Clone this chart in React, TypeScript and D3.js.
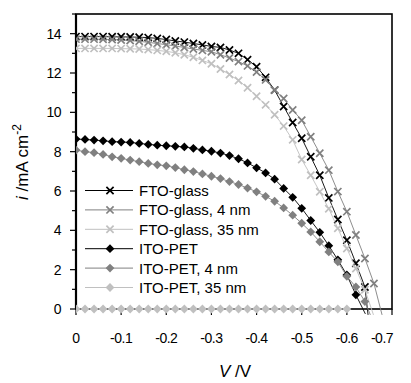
import { line, range, scaleLinear } from "d3";

// bias voltage (V) at every measured point, shared by all series
const VOLTAGE = [
  0, -0.02, -0.04, -0.06, -0.08, -0.1, -0.12, -0.14, -0.16, -0.18, -0.2, -0.22, -0.24, -0.26, -0.28, -0.3, -0.32,
  -0.34, -0.36, -0.38, -0.4, -0.42, -0.44, -0.46, -0.48, -0.5, -0.52, -0.54, -0.56, -0.58, -0.6, -0.62, -0.64, -0.66,
];

// photocurrent density (mA cm-2)
const FTO_GLASS = [
  13.85, 13.85, 13.85, 13.85, 13.84, 13.84, 13.83, 13.82, 13.8, 13.76, 13.7, 13.63, 13.57, 13.5, 13.43, 13.35, 13.3,
  13.17, 13.0, 12.68, 12.32, 11.78, 11.13, 10.3, 9.48, 8.68, 7.74, 6.8, 5.65, 4.55, 3.5, 2.33, 1.12,
];
const FTO_GLASS_4 = [
  13.72, 13.72, 13.72, 13.71, 13.7, 13.68, 13.65, 13.61, 13.56, 13.5, 13.44, 13.37, 13.3, 13.22, 13.15, 13.08, 12.93,
  12.76, 12.58, 12.36, 12.05, 11.65, 11.13, 10.7, 10.12, 9.6, 8.76, 7.92, 7.06, 5.97, 4.95, 3.76, 2.57, 1.3,
];
const FTO_GLASS_35 = [
  13.25, 13.25, 13.25, 13.25, 13.25, 13.24, 13.23, 13.22, 13.19, 13.15, 13.1, 13.03, 12.93, 12.8, 12.64, 12.47, 12.2,
  11.92, 11.62, 11.25, 10.82, 10.38, 9.88, 9.3, 8.6, 7.6, 6.8, 5.96, 5.1, 4.1, 3.08, 2.06, 0.98,
];
const ITO_PET = [
  8.64, 8.62, 8.59, 8.55, 8.51, 8.49, 8.47, 8.42, 8.37, 8.33, 8.3, 8.27, 8.24, 8.17, 8.09, 8.02, 7.93, 7.8, 7.64, 7.43,
  7.18, 6.92, 6.6, 6.13, 5.68, 5.12, 4.5, 3.9, 3.22, 2.5, 1.73, 0.72,
];
const ITO_PET_4 = [
  8.08, 8.0, 7.95, 7.86, 7.74, 7.66, 7.57, 7.49, 7.4, 7.33, 7.28, 7.19, 7.08, 6.99, 6.87, 6.75, 6.63, 6.48, 6.33, 6.15,
  5.96, 5.73, 5.48, 5.14, 4.77, 4.36, 3.92, 3.42, 2.9, 2.4, 1.66, 1.12, 0.38,
];
const ITO_PET_35 = [
  0, 0, 0, 0, 0, 0, 0, 0, 0, 0, 0, 0, 0, 0, 0, 0, 0, 0, 0, 0, 0, 0, 0, 0, 0, 0, 0, 0, 0, 0, 0,
];

// last point of each trace, just past open circuit (below the axis, no marker)
const END_V = [-0.647, -0.678, -0.659, -0.641, -0.652, null];
const END_I = [-0.3, -0.3, -0.3, -0.25, -0.3, null];

const NAMES = ["FTO-glass", "FTO-glass, 4 nm", "FTO-glass, 35 nm", "ITO-PET", "ITO-PET, 4 nm", "ITO-PET, 35 nm"];
const COLORS = ["#000000", "#808080", "#c0c0c0", "#000000", "#808080", "#c0c0c0"];
const MARKERS = ["x", "x", "x", "diamond", "diamond", "diamond"];

const X_TICKS = [0, -0.1, -0.2, -0.3, -0.4, -0.5, -0.6, -0.7];
const X_TICK_LABELS = ["0", "-0.1", "-0.2", "-0.3", "-0.4", "-0.5", "-0.6", "-0.7"];
const Y_TICKS = [0, 2, 4, 6, 8, 10, 12, 14];

type Pt = { v: number; i: number };

function Marker({ kind, x, y, color }: { kind: string; x: number; y: number; color: string }) {
  if (kind === "x") {
    const s = 3.6;
    return (
      <path
        d={`M${x - s},${y - s}L${x + s},${y + s}M${x - s},${y + s}L${x + s},${y - s}`}
        stroke={color}
        strokeWidth={1.7}
        fill="none"
      />
    );
  }
  const s = 4.4;
  return <path d={`M${x},${y - s}L${x + s},${y}L${x},${y + s}L${x - s},${y}Z`} fill={color} />;
}

export default function App() {
  const width = 411;
  const height = 383;
  const margin = { top: 14, right: 19, bottom: 74, left: 76 };

  const x = scaleLinear()
    .domain([0, -0.7])
    .range([margin.left, width - margin.right]);
  const y = scaleLinear()
    .domain([0, 15])
    .range([height - margin.bottom, margin.top]);

  const currents = [FTO_GLASS, FTO_GLASS_4, FTO_GLASS_35, ITO_PET, ITO_PET_4, ITO_PET_35];
  const series = currents.map((vals, k) => {
    const pts: Pt[] = vals.map((c, j) => ({ v: VOLTAGE[j], i: c }));
    const tail: Pt[] = END_V[k] != null ? [{ v: END_V[k] as number, i: END_I[k] as number }] : [];
    return { name: NAMES[k], color: COLORS[k], marker: MARKERS[k], pts, all: pts.concat(tail) };
  });

  const path = line<Pt>()
    .x((d) => x(d.v))
    .y((d) => y(d.i));

  const font = "'Liberation Sans', Arial, sans-serif";
  const x0 = margin.left;
  const x1 = width - margin.right;
  const y0 = y(0);
  const legendY = 190.5;
  const legendStep = 19.4;

  return (
    <svg
      width={width}
      height={height}
      style={{ position: "absolute", left: 0, top: 0, background: "#fff" }}
      fontFamily={font}
    >
      <defs>
        <clipPath id="plot-clip">
          <rect x={x0} y={margin.top} width={x1 - x0} height={y0 - margin.top + 6} />
        </clipPath>
      </defs>
      <rect width={width} height={height} fill="#fff" />

      {/* y ticks */}
      {range(0, 16).map((t) => (
        <line
          key={`yt-${t}`}
          x1={x0 - (t % 2 === 0 ? 6 : 4)}
          x2={x0}
          y1={y(t)}
          y2={y(t)}
          stroke="#000"
          strokeWidth={1.2}
        />
      ))}
      {Y_TICKS.map((t) => (
        <text key={`yl-${t}`} x={61} y={y(t)} dy="0.36em" textAnchor="end" fontSize={14} letterSpacing={-0.5}>
          {t}
        </text>
      ))}

      {/* x ticks */}
      {X_TICKS.map((t, k) => (
        <g key={`xt-${t}`}>
          <line x1={x(t)} x2={x(t)} y1={y0} y2={y0 + 6} stroke="#000" strokeWidth={1.2} />
          <text x={Math.min(x(t), 382)} y={343} textAnchor="middle" fontSize={14} letterSpacing={-0.5}>
            {X_TICK_LABELS[k]}
          </text>
        </g>
      ))}

      {/* plot frame */}
      <rect x={x0} y={margin.top} width={x1 - x0} height={y0 - margin.top} fill="none" stroke="#000" strokeWidth={1.6} />
      <line x1={x0} x2={x0} y1={margin.top} y2={y0} stroke="#000" strokeWidth={2.2} />

      {/* series */}
      <g clipPath="url(#plot-clip)">
        {series.map((s) => (
          <g key={s.name}>
            <path d={path(s.all) ?? ""} fill="none" stroke={s.color} strokeWidth={0.9} />
            {s.pts.map((p, j) => (
              <Marker key={j} kind={s.marker} x={x(p.v)} y={y(p.i)} color={s.color} />
            ))}
          </g>
        ))}
      </g>

      {/* legend */}
      {series.map((s, k) => {
        const ly = legendY + k * legendStep;
        return (
          <g key={`lg-${s.name}`}>
            <line x1={85} x2={133} y1={ly} y2={ly} stroke={s.color} strokeWidth={1} />
            <Marker kind={s.marker} x={110} y={ly} color={s.color} />
            <text x={139} y={ly} dy="0.36em" fontSize={15}>
              {s.name}
            </text>
          </g>
        );
      })}

      {/* axis titles */}
      <text x={235} y={377} textAnchor="middle" fontSize={17}>
        <tspan fontStyle="italic">V</tspan>
        <tspan> /V</tspan>
      </text>
      <text transform="translate(28,162) rotate(-90)" textAnchor="middle" fontSize={17}>
        <tspan fontStyle="italic">i</tspan>
        <tspan> /mA cm</tspan>
        <tspan fontSize={12} dy={-7}>
          -2
        </tspan>
      </text>
    </svg>
  );
}
